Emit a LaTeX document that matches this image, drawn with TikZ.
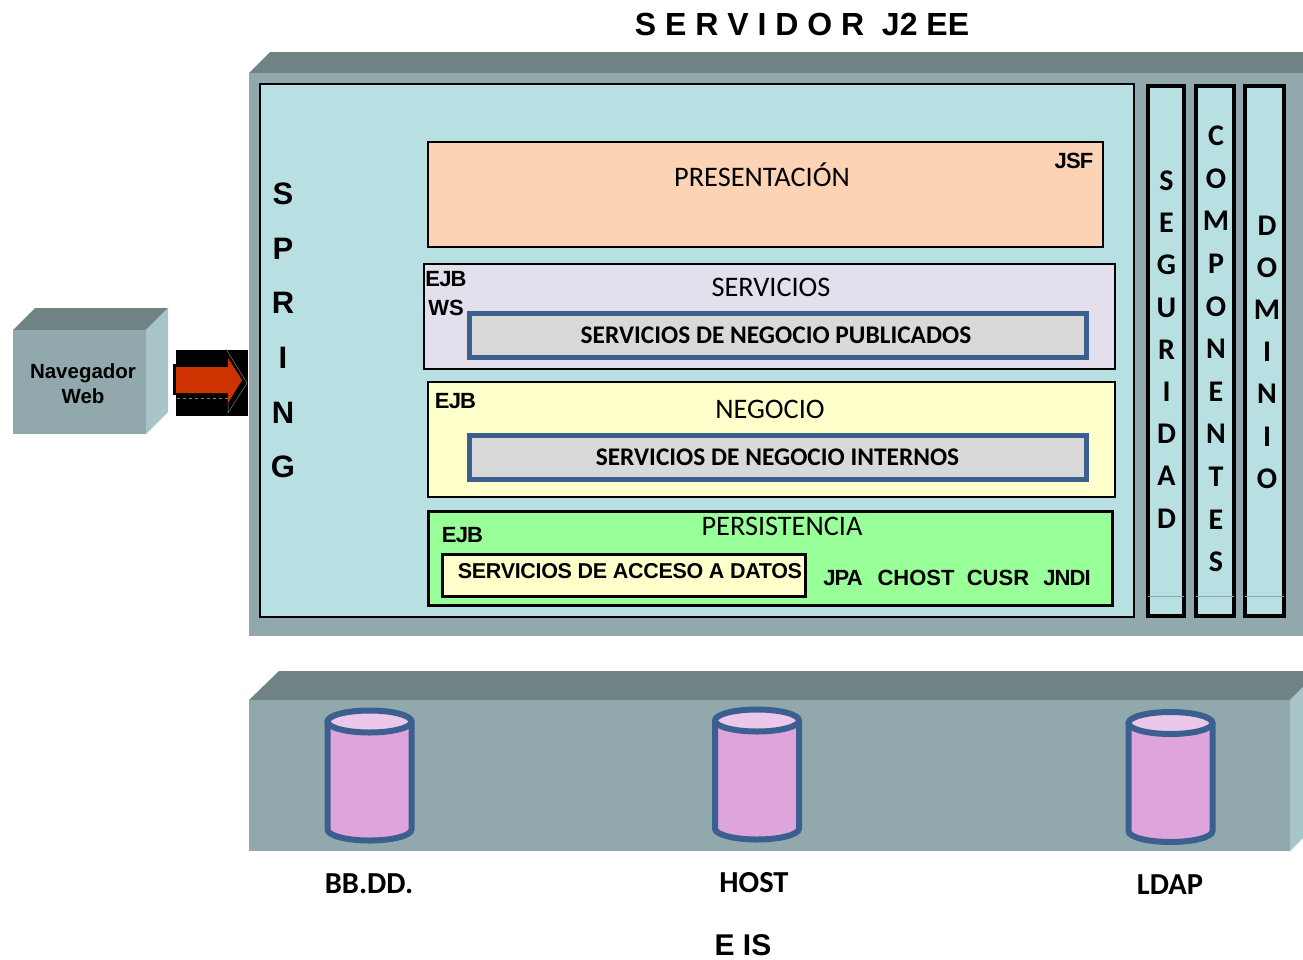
\documentclass[tikz,border=0pt]{standalone}
\usepackage{fontspec}
\setmainfont{Liberation Sans}
\newfontfamily\calfont{Carlito}
\definecolor{frontgray}{HTML}{91A9AD}
\definecolor{topgray}{HTML}{6F8385}
\definecolor{sidegray}{HTML}{A7C5C8}
\definecolor{paleblue}{HTML}{B8DFE2}
\definecolor{barblue}{HTML}{3B5F8E}
\definecolor{cyltop}{HTML}{EBC7EA}
\definecolor{cylbody}{HTML}{DEA5DC}
\definecolor{presfill}{HTML}{FCD3B4}
\definecolor{servfill}{HTML}{E4DFEC}
\definecolor{negfill}{HTML}{FFFFCC}
\definecolor{persfill}{HTML}{99FF99}
\definecolor{arrowred}{HTML}{CC3300}
\tikzset{
  box/.style={draw=black,inner sep=0pt,line width=1.5pt},
  layertxt/.style={inner sep=0pt,font=\calfont\fontsize{28.3}{28.3}\selectfont},
  bluebar/.style={draw=barblue,line width=5pt,fill=black!15,inner sep=0pt,minimum width=617pt,minimum height=44pt},
  bartxt/.style={inner sep=0pt,font=\calfont\bfseries\fontsize{25.4}{25.4}\selectfont},
  tag/.style={inner sep=0pt,font=\bfseries\fontsize{22}{22}\selectfont},
  tighttag/.style={tag,font=\bfseries\fontsize{22}{22}\selectfont\addfontfeature{LetterSpace=-4}},
  column/.style={box,line width=3.5pt,fill=paleblue,minimum height=530pt},
  columntxt/.style={inner sep=0pt,align=center,font=\calfont\bfseries\fontsize{30}{42.2}\selectfont},
  colrule/.style={frontgray,line width=.7pt,shorten >=2pt,shorten <=2pt},
  dblabel/.style={inner sep=0pt,font=\calfont\bfseries\fontsize{30.5}{30.5}\selectfont},
  pics/dbcan/.style={code={
    \draw[barblue,line width=6pt,fill=cylbody] (-42,-54) -- (-42,54)
      arc[start angle=180,end angle=0,x radius=42,y radius=11] -- (42,-54);
    \draw[barblue,line width=6pt,fill=cyltop] (0,-54) ellipse [x radius=42,y radius=11];
  }}
}
\begin{document}
\begin{tikzpicture}[x=1pt,y=-1pt]
  \useasboundingbox (0,0) rectangle (1303,959);
  \node[inner sep=0pt,font=\bfseries\fontsize{32}{32}\selectfont] (title) at (802,24) {S E R V I D O R\ \ J2 EE};

  % navegador
  \fill[topgray] (13,330) -- (35,308) -- (168,308) -- (146,330) -- cycle;
  \fill[sidegray] (146,330) -- (168,308) -- (168,412) -- (146,434) -- cycle;
  \node[fill=frontgray,inner sep=0pt,minimum width=133pt,minimum height=104pt] (browser) at (79.5,382) {};
  \node[inner sep=0pt,align=center,font=\bfseries\fontsize{20.5}{25}\selectfont] (browsertxt) at (83,384) {Navegador\\Web};
  \node[fill=black,inner sep=0pt,minimum width=72pt,minimum height=66pt] (arrowbg) at (212,383) {};
  \fill[black] (173,364) rectangle (177,395);
  \draw[gray,line width=.5pt] (226,349) -- (247,383) -- (228,413) -- (228,398);
  \draw[gray,line width=.5pt,dashed] (228,398) -- (176,398);
  \fill[arrowred] (176,367) -- (228,367) -- (228,358) -- (242,380) -- (228,403) -- (228,393) -- (176,393) -- cycle;

  % servidor
  \fill[topgray] (249,73) -- (270,52) -- (1303,52) -- (1303,73) -- cycle;
  \node[fill=frontgray,inner sep=0pt,minimum width=1054pt,minimum height=563pt] (server) at (776,354.5) {};
  \node[box,fill=paleblue,minimum width=874pt,minimum height=533pt] (spring) at (697,350.5) {};
  \node[inner sep=0pt,align=center,font=\bfseries\fontsize{31}{54.6}\selectfont] (springtxt) at (283,330.5) {S\\P\\R\\I\\N\\G};

  \node[box,fill=presfill,minimum width=675pt,minimum height=105pt] (pres) at (765.5,194.5) {};
  \node[layertxt] (prestxt) at (762,175) {PRESENTACIÓN};
  \node[tighttag] (jsf) at (1074,161) {JSF};

  \node[box,fill=servfill,minimum width=691pt,minimum height=105pt] (serv) at (769.5,316.5) {};
  \node[layertxt] (servtxt) at (771,287) {SERVICIOS};
  \node[tighttag] (ejbserv) at (446,279) {EJB};
  \node[tag] (ws) at (446,308) {WS};
  \node[bluebar] (publicados) at (778,335.5) {};
  \node[bartxt] (publicadostxt) at (776,335.5) {SERVICIOS DE NEGOCIO PUBLICADOS};

  \node[box,fill=negfill,minimum width=687pt,minimum height=115pt] (neg) at (771.5,439.5) {};
  \node[layertxt] (negtxt) at (770,409) {NEGOCIO};
  \node[tighttag] (ejbneg) at (455.5,401) {EJB};
  \node[bluebar] (internos) at (778,457.5) {};
  \node[bartxt] (internostxt) at (777.5,457.5) {SERVICIOS DE NEGOCIO INTERNOS};

  \node[box,line width=3pt,fill=persfill,minimum width=684pt,minimum height=94pt] (pers) at (770,558) {};
  \node[layertxt] (perstxt) at (782,526) {PERSISTENCIA};
  \node[tighttag] (ejbpers) at (462.5,535) {EJB};
  \node[box,line width=3pt,fill=negfill,minimum width=363pt,minimum height=42pt] (datos) at (623.5,575) {};
  \node[tag,font=\bfseries\fontsize{21.5}{21.5}\selectfont\addfontfeature{LetterSpace=-1.5}] (datostxt) at (630,571) {SERVICIOS DE ACCESO A DATOS};
  \node[tighttag] (jpa) at (843,578) {JPA};
  \node[tag] (chost) at (916,578) {CHOST};
  \node[tag] (cusr) at (998,578) {CUSR};
  \node[tighttag] (jndi) at (1067,578) {JNDI};

  \node[column,minimum width=36pt] (seguridad) at (1166,351) {};
  \node[column,minimum width=38pt] (componentes) at (1215,351) {};
  \node[column,minimum width=39pt] (dominio) at (1264.5,351) {};
  \node[columntxt] (seguridadtxt) at (1166.5,349.5) {S\\E\\G\\U\\R\\I\\D\\A\\D};
  \node[columntxt,font=\calfont\bfseries\fontsize{30}{42.6}\selectfont] (componentestxt) at (1216,349) {C\\O\\M\\P\\O\\N\\E\\N\\T\\E\\S};
  \node[columntxt] (dominiotxt) at (1267,352) {D\\O\\M\\I\\N\\I\\O};
  \draw[colrule] (seguridad.west |- 0,596) -- (seguridad.east |- 0,596);
  \draw[colrule] (componentes.west |- 0,596) -- (componentes.east |- 0,596);
  \draw[colrule] (dominio.west |- 0,596) -- (dominio.east |- 0,596);

  % eis
  \fill[topgray] (249,700) -- (279,671) -- (1303,671) -- (1303,687) -- (1290,700) -- cycle;
  \fill[sidegray] (1290,700) -- (1303,687) -- (1303,838) -- (1290,851) -- cycle;
  \node[fill=frontgray,inner sep=0pt,minimum width=1041pt,minimum height=151pt] (eis) at (769.5,775.5) {};
  \pic (bbdd) at (369.5,775.5) {dbcan};
  \pic (host) at (757,774.5) {dbcan};
  \pic (ldap) at (1170.5,777) {dbcan};
  \node[dblabel] (bbddtxt) at (369,884) {BB.DD.};
  \node[dblabel] (hosttxt) at (754,883) {HOST};
  \node[dblabel] (ldaptxt) at (1170,885) {LDAP};
  \node[inner sep=0pt,font=\bfseries\fontsize{30}{30}\selectfont] (eistxt) at (743,945) {E IS};
\end{tikzpicture}
\end{document}
